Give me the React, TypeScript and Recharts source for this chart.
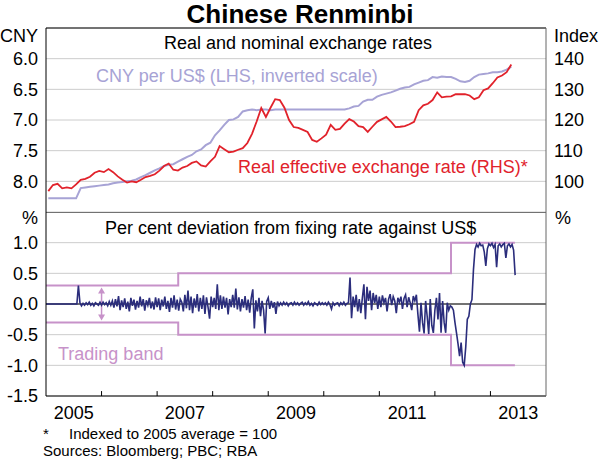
import React from 'react';
import { LineChart, Line, XAxis, YAxis, CartesianGrid, ReferenceLine } from 'recharts';

// monthly, Jan 2005 .. May 2013
const cnyPerUsd = [
  8.277, 8.277, 8.277, 8.277, 8.277, 8.277, 8.277, 8.11, 8.10, 8.09, 8.08, 8.07,
  8.06, 8.05, 8.03, 8.02, 8.01, 8.00, 7.99, 7.97, 7.93, 7.90, 7.86, 7.82,
  7.79, 7.75, 7.73, 7.72, 7.68, 7.64, 7.60, 7.57, 7.51, 7.48, 7.41, 7.37,
  7.25, 7.17, 7.08, 7.00, 6.99, 6.95, 6.86, 6.84, 6.83, 6.84, 6.83, 6.83,
  6.84, 6.83, 6.83, 6.83, 6.83, 6.83, 6.83, 6.83, 6.83, 6.83, 6.83, 6.83,
  6.83, 6.83, 6.83, 6.83, 6.83, 6.81, 6.78, 6.77, 6.70, 6.67, 6.67, 6.62,
  6.59, 6.57, 6.55, 6.52, 6.49, 6.47, 6.46, 6.42, 6.39, 6.36, 6.35, 6.30,
  6.31, 6.29, 6.30, 6.30, 6.33, 6.37, 6.38, 6.36, 6.30, 6.26, 6.25, 6.24,
  6.22, 6.22, 6.21, 6.18, 6.13,
];

const reerIndex = [
  96.8, 98.8, 99.2, 97.7, 98.0, 97.7, 99.0, 100.5, 100.8, 101.5, 102.8, 103.4,
  103.0, 104.0, 103.0, 101.6, 100.5, 99.6, 100.0, 99.7, 100.5, 101.4, 101.8, 102.3,
  103.5, 105.0, 105.8, 103.8, 103.5, 104.5, 105.0, 106.0, 106.5, 105.2, 104.8, 106.5,
  108.0, 111.5, 110.5, 109.5, 109.7, 110.3, 110.8, 112.5, 115.5, 119.5, 123.9, 121.0,
  124.0, 126.8, 126.5, 124.0, 120.0, 117.7, 117.4, 116.8, 116.1, 113.5, 112.9, 114.0,
  115.2, 118.4, 116.8, 117.1, 118.8, 120.3, 119.5, 118.0, 117.7, 116.1, 117.8, 119.4,
  120.2, 121.0, 119.5, 117.7, 117.8, 118.0, 118.6, 119.4, 123.2, 124.8, 125.3, 126.5,
  129.0, 127.4, 127.6, 127.7, 128.4, 128.4, 128.4, 128.0, 126.8, 127.4, 129.7, 130.3,
  132.0, 133.9, 134.5, 135.6, 138.1,
];

// deviation from fixing, 36 readings per year
const dev2005 = [0, 0, 0, 0, 0, 0, 0, 0, 0, 0, 0, 0, 0, 0, 0, 0, 0, 0, 0, 0, 0, 0.30, 0.02, -0.03, 0.01, -0.02, 0.02, -0.01, 0.03, -0.02, 0.01, -0.03, 0.02, 0.00, -0.02, 0.03];
const dev2006 = [-0.02, 0.03, -0.01, 0.02, -0.03, 0.04, -0.02, 0.05, -0.06, 0.08, -0.04, 0.13, -0.10, 0.06, -0.05, 0.09, -0.08, 0.04, -0.12, 0.10, -0.03, 0.07, -0.09, 0.05, -0.06, 0.12, -0.04, 0.08, -0.11, 0.06, -0.02, 0.10, -0.07, 0.04, -0.09, 0.11];
const dev2007 = [-0.05, 0.09, -0.10, 0.07, -0.04, 0.12, -0.08, 0.05, -0.13, 0.10, -0.06, 0.14, -0.09, 0.07, -0.11, 0.08, 0.03, -0.12, 0.15, -0.07, 0.22, -0.10, 0.12, -0.15, 0.09, -0.06, 0.16, -0.12, 0.10, -0.08, 0.14, -0.16, 0.11, -0.05, -0.24, 0.12];
const dev2008 = [-0.05, 0.10, -0.08, 0.32, -0.10, 0.14, -0.08, 0.12, -0.06, 0.10, -0.17, 0.08, -0.05, 0.15, -0.06, 0.25, -0.09, 0.11, -0.12, 0.08, -0.06, 0.13, -0.10, 0.07, -0.14, 0.10, 0.24, -0.40, 0.06, -0.12, 0.10, -0.20, 0.05, -0.10, -0.48, 0.04];
const dev2009 = [0.10, -0.08, 0.05, -0.06, 0.03, -0.16, 0.04, -0.03, 0.02, -0.02, 0.03, -0.01, 0.02, -0.03, 0.01, 0.02, -0.02, 0.03, -0.01, 0.02, -0.02, 0.01, 0.03, -0.02, 0.02, -0.01, 0.04, -0.02, 0.01, -0.03, 0.02, 0.00, -0.02, 0.03, -0.01, 0.02];
const dev2010 = [-0.01, 0.02, -0.02, 0.03, -0.01, -0.08, 0.02, -0.02, 0.01, 0.02, -0.03, 0.02, -0.01, 0.03, -0.02, 0.01, 0.02, 0.43, -0.23, 0.12, -0.05, 0.15, -0.12, 0.08, -0.15, 0.10, 0.32, -0.25, 0.28, 0.05, 0.22, -0.10, 0.18, 0.02, 0.15, -0.08];
const dev2011 = [0.12, -0.05, 0.14, 0.02, 0.10, -0.12, 0.08, 0.16, -0.02, 0.12, 0.05, -0.15, 0.10, 0.03, 0.12, -0.08, 0.09, 0.15, -0.05, 0.11, 0.02, -0.10, 0.13, 0.05, 0.15, -0.17, -0.45, 0.02, -0.30, -0.48, 0.05, -0.20, -0.49, 0.08, -0.35, -0.47];
const dev2012 = [-0.10, 0.10, -0.25, 0.18, -0.47, 0.05, -0.30, -0.47, 0.02, -0.10, -0.03, -0.05, -0.10, -0.30, -0.47, -0.65, -0.85, -0.63, -0.95, -1.00, -0.70, -0.25, -0.20, 0.00, 0.07, 0.56, 0.89, 0.97, 0.93, 0.99, 0.95, 0.96, 0.85, 0.62, 0.90, 0.98];
const dev2013 = [0.95, 0.99, 0.92, 0.97, 0.60, 0.95, 0.98, 0.93, 0.97, 0.99, 0.75, 0.95, 0.98, 0.93, 0.97, 0.88, 0.47];
const deviation = [...dev2005, ...dev2006, ...dev2007, ...dev2008, ...dev2009, ...dev2010, ...dev2011, ...dev2012, ...dev2013];

const bandDates = [2005, 2007.38, 2007.38, 2012.29, 2012.29, 2013.44];
const bandUpper = [0.3, 0.3, 0.5, 0.5, 1.0, 1.0];
const bandLower = [-0.3, -0.3, -0.5, -0.5, -1.0, -1.0];

const yearLabels = [2005.5, 2007.5, 2009.5, 2011.5, 2013.5];
const yearTicks = [2006, 2007, 2008, 2009, 2010, 2011, 2012, 2013];
const cnyTicks = [6.0, 6.5, 7.0, 7.5, 8.0];
const indexTicks = [100, 110, 120, 130, 140];
const devTicks = [-1.5, -1.0, -0.5, 0, 0.5, 1.0];

const monthly = cnyPerUsd.map((v, i) => ({ date: 2005 + i / 12 + 1 / 24, cny: v, reer: reerIndex[i] }));
const daily = deviation.map((v, i) => ({ date: 2005 + i / 36, dev: v }));
const upperBand = bandDates.map((d, i) => ({ date: d, band: bandUpper[i] }));
const lowerBand = bandDates.map((d, i) => ({ date: d, band: bandLower[i] }));

const colors = {
  cny: '#a7a3d5',
  reer: '#e1222b',
  dev: '#2b2d7c',
  band: '#c792c9',
  grid: '#cccccc',
};

const tickStyle = { fontSize: 18, fill: '#000' };

function Label({ x, y, text, size = 18, color = '#000', align = 'left', bold = false }: any) {
  const style: React.CSSProperties = {
    position: 'absolute',
    top: y - size / 2,
    fontSize: size,
    lineHeight: 1,
    color,
    whiteSpace: 'nowrap',
    fontWeight: bold ? 700 : 400,
  };
  if (align === 'left') style.left = x;
  else if (align === 'right') style.right = 600 - x;
  else {
    style.left = x;
    style.transform = 'translateX(-50%)';
  }
  return <div style={style}>{text}</div>;
}

// double headed arrow showing the band width
const arrowShape = (p: any) => {
  const { x1, y1, x2, y2 } = p;
  const top = Math.min(y1, y2);
  const bottom = Math.max(y1, y2);
  return (
    <g>
      <line x1={x1} y1={top + 4} x2={x2} y2={bottom - 4} stroke={colors.band} strokeWidth={1.5} />
      <polygon points={`${x1},${top} ${x1 - 3.5},${top + 6} ${x1 + 3.5},${top + 6}`} fill={colors.band} />
      <polygon points={`${x1},${bottom} ${x1 - 3.5},${bottom - 6} ${x1 + 3.5},${bottom - 6}`} fill={colors.band} />
    </g>
  );
};

export default function App() {
  return (
    <div
      style={{
        position: 'absolute',
        left: 0,
        top: 0,
        width: 600,
        height: 462,
        background: '#fff',
        fontFamily: '"Liberation Sans", Arial, sans-serif',
        overflow: 'hidden',
      }}
    >
      <div style={{ position: 'absolute', left: 0, top: 0 }}>
        <LineChart width={600} height={212} data={monthly} margin={{ top: 28, right: 0, bottom: 0, left: 0 }}>
          <XAxis type="number" dataKey="date" domain={[2005, 2014]} hide />
          <YAxis
            yAxisId="cny"
            width={46}
            domain={[5.5, 8.5]}
            reversed
            ticks={cnyTicks}
            tickFormatter={(v: number) => v.toFixed(1)}
            tick={tickStyle}
            tickLine={false}
            axisLine={{ stroke: '#000' }}
            interval={0}
          />
          <YAxis
            yAxisId="idx"
            orientation="right"
            width={54}
            domain={[90, 150]}
            ticks={indexTicks}
            tick={tickStyle}
            tickLine={false}
            axisLine={{ stroke: '#666' }}
            interval={0}
          />
          <CartesianGrid yAxisId="cny" vertical={false} stroke={colors.grid} />
          <ReferenceLine yAxisId="cny" y={5.5} stroke="#000" />
          <Line
            yAxisId="cny"
            type="linear"
            dataKey="cny"
            stroke={colors.cny}
            strokeWidth={2}
            dot={false}
            isAnimationActive={false}
          />
          <Line
            yAxisId="idx"
            type="linear"
            dataKey="reer"
            stroke={colors.reer}
            strokeWidth={1.8}
            dot={false}
            isAnimationActive={false}
          />
        </LineChart>
      </div>

      <div style={{ position: 'absolute', left: 0, top: 212 }}>
        <LineChart width={600} height={250} data={daily} margin={{ top: 0, right: 0, bottom: 36, left: 0 }}>
          <XAxis
            type="number"
            dataKey="date"
            domain={[2005, 2014]}
            ticks={yearLabels}
            tickFormatter={(v: number) => String(Math.floor(v))}
            tick={tickStyle}
            tickLine={false}
            tickMargin={4}
            axisLine={{ stroke: '#000' }}
            height={30}
            interval={0}
          />
          <YAxis
            width={46}
            domain={[-1.5, 1.5]}
            ticks={devTicks}
            tickFormatter={(v: number) => v.toFixed(1)}
            tick={tickStyle}
            tickLine={false}
            axisLine={{ stroke: '#000' }}
            interval={0}
          />
          <YAxis
            yAxisId="r"
            orientation="right"
            width={54}
            domain={[-1.5, 1.5]}
            ticks={devTicks}
            tickFormatter={(v: number) => v.toFixed(1)}
            tick={tickStyle}
            tickLine={false}
            axisLine={{ stroke: '#666' }}
            interval={0}
          />
          <CartesianGrid vertical={false} stroke={colors.grid} />
          <ReferenceLine y={0} stroke="#000" />
          <ReferenceLine y={1.5} stroke="#000" />
          {yearTicks.map((yr) => (
            <ReferenceLine
              key={yr}
              segment={[{ x: yr, y: -1.5 }, { x: yr, y: -1.42 }]}
              stroke="#000"
            />
          ))}
          <ReferenceLine
            segment={[{ x: 2006, y: 0.27 }, { x: 2006, y: -0.27 }]}
            shape={arrowShape}
          />
          <Line
            data={upperBand}
            type="linear"
            dataKey="band"
            stroke={colors.band}
            strokeWidth={2}
            dot={false}
            isAnimationActive={false}
          />
          <Line
            data={lowerBand}
            type="linear"
            dataKey="band"
            stroke={colors.band}
            strokeWidth={2}
            dot={false}
            isAnimationActive={false}
          />
          <Line
            type="linear"
            dataKey="dev"
            stroke={colors.dev}
            strokeWidth={1.6}
            dot={false}
            isAnimationActive={false}
          />
        </LineChart>
      </div>

      <Label x={300} y={14} text="Chinese Renminbi" size={26} align="center" bold />
      <Label x={38} y={36} text="CNY" align="right" />
      <Label x={554} y={36} text="Index" />
      <Label x={298} y={43} text="Real and nominal exchange rates" align="center" />
      <Label x={96} y={76} text="CNY per US$ (LHS, inverted scale)" color={colors.cny} />
      <Label x={238} y={167} text="Real effective exchange rate (RHS)*" color={colors.reer} />
      <Label x={38} y={218} text="%" align="right" />
      <Label x={555} y={218} text="%" />
      <Label x={105} y={228} text="Per cent deviation from fixing rate against US$" />
      <Label x={58} y={354} text="Trading band" color={colors.band} />
      <Label x={43} y={433} text="*" size={15} />
      <Label x={69} y={433} text="Indexed to 2005 average = 100" size={15} />
      <Label x={43} y={450} text="Sources: Bloomberg; PBC; RBA" size={15} />
    </div>
  );
}
